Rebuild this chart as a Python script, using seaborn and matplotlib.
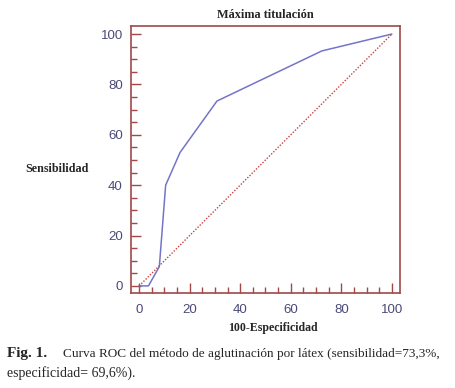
import matplotlib
matplotlib.use('Agg')
import matplotlib.pyplot as plt
import numpy as np
import pandas as pd
import seaborn as sns
from matplotlib.ticker import MultipleLocator

# ROC curve values
fpr = [0, 3.7, 8.0, 10.5, 16.2, 30.8, 72.3, 100]
tpr = [0, 0, 7.7, 40, 53, 73.4, 93.3, 100]
diag = [0, 100]

sns.set_style('white')
plt.rcParams['font.family'] = ['Liberation Serif', 'DejaVu Serif']

SPINE = '#a04848'
TICKLAB = '#4a4a78'

fig = plt.figure(figsize=(4.55, 3.88), dpi=100)
ax = fig.add_axes([0.288, 0.245, 0.591, 0.688])

roc = pd.DataFrame({'x': fpr, 'y': tpr})
ref = pd.DataFrame({'x': diag, 'y': diag})
sns.lineplot(data=roc, x='x', y='y', ax=ax, color='#7474c8', lw=1.1,
             sort=False, estimator=None)
sns.lineplot(data=ref, x='x', y='y', ax=ax, color='#c84040', lw=1.0,
             linestyle=(0, (1, 1.2)))

ax.set_xlim(-3.2, 103.2)
ax.set_ylim(-2.8, 103.2)
ax.xaxis.set_major_locator(MultipleLocator(20))
ax.yaxis.set_major_locator(MultipleLocator(20))
ax.xaxis.set_minor_locator(MultipleLocator(5))
ax.yaxis.set_minor_locator(MultipleLocator(5))
ax.tick_params(which='major', direction='in', length=7, width=1, color=SPINE,
               labelcolor=TICKLAB, labelsize=9.5, bottom=True, left=True)
ax.tick_params(which='minor', direction='in', length=4, width=1, color=SPINE,
               bottom=True, left=True)
ax.tick_params(axis='x', pad=8)
ax.tick_params(axis='y', pad=6)
for lab in ax.get_xticklabels() + ax.get_yticklabels():
    lab.set_family(['Liberation Sans Narrow', 'Liberation Sans', 'DejaVu Sans'])
for s in ax.spines.values():
    s.set_color(SPINE)
    s.set_linewidth(1.2)

ax.set_xlabel('')
ax.set_ylabel('')
ax.set_title('Máxima titulación', fontsize=8.8, fontweight='bold', pad=6)
fig.text(0.055, 0.565, 'Sensibilidad', fontsize=8.7, fontweight='bold',
         ha='left', va='center')
fig.text(0.6, 0.155, '100-Especificidad', fontsize=8.6, fontweight='bold',
         ha='center', va='center')

fig.text(0.015, 0.088, 'Fig. 1.', fontsize=11, fontweight='bold',
         ha='left', va='center')
fig.text(0.138, 0.088,
         'Curva ROC del método de aglutinación por látex (sensibilidad=73,3%,',
         fontsize=9.5, ha='left', va='center')
fig.text(0.015, 0.038, 'especificidad= 69,6%).', fontsize=10,
         ha='left', va='center')

fig.savefig('out.png', dpi=100)
